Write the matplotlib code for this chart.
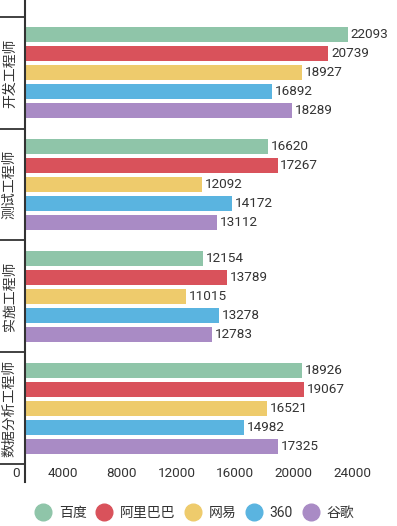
import numpy as np
import matplotlib
matplotlib.use('Agg')
from matplotlib import pyplot as plt
from matplotlib.lines import Line2D
from matplotlib.transforms import ScaledTranslation

plt.rcParams['font.family'] = ['Roboto', 'Noto Sans CJK SC', 'DejaVu Sans']

# job categories (top to bottom) and companies
jobs = ['开发工程师', '测试工程师', '实施工程师', '数据分析工程师']
companies = ['百度', '阿里巴巴', '网易', '360', '谷歌']
colors = ['#8fc5a9', '#d9525b', '#eecb6c', '#5ab4e0', '#a98bc5']

baidu = [22093, 16620, 12154, 18926]
alibaba = [20739, 17267, 13789, 19067]
netease = [18927, 12092, 11015, 16521]
q360 = [16892, 14172, 13278, 14982]
google = [18289, 13112, 12783, 17325]
series = [baidu, alibaba, netease, q360, google]

xticks = [0, 4000, 8000, 12000, 16000, 20000, 24000]

fig = plt.figure(figsize=(3.97, 5.26), dpi=100)
ax = fig.add_axes([25/397, 44/526, 351/397, 482/526])

y = np.arange(len(jobs))
step = 0.17
for i, vals in enumerate(series):
    bars = ax.barh(y + (i - 2) * step, vals, height=0.135, color=colors[i])
    ax.bar_label(bars, padding=2, fontsize=9.7, color='#333333')

ax.set_xlim(0, 24000)
ax.set_ylim(3.661, -0.652)

ax.set_xticks(xticks)
ax.set_xticklabels([str(t) for t in xticks])
ax.tick_params(axis='x', length=0, pad=-11, labelsize=9.7, labelcolor='#333333')
for lab in ax.get_xticklabels():
    lab.set_ha('right')
    lab.set_transform(lab.get_transform() + ScaledTranslation(-5/100, 0, fig.dpi_scale_trans))

ax.set_yticks(y)
ax.set_yticklabels(jobs, rotation=90, va='center', fontsize=10, color='#333333')
ax.set_yticks(np.arange(-0.5, len(jobs)), minor=True)
ax.tick_params(axis='y', which='major', length=0, pad=6)
ax.tick_params(axis='y', which='minor', length=18, width=1.3, color='#333333')

for s in ['top', 'right', 'bottom']:
    ax.spines[s].set_visible(False)
ax.spines['left'].set_color('#333333')
ax.spines['left'].set_linewidth(1.5)

handles = [Line2D([], [], marker='o', linestyle='', markersize=12, color=c) for c in colors]
fig.legend(handles, companies, loc='center', bbox_to_anchor=(0.49, 13/526), ncol=5,
           frameon=False, fontsize=10, handlelength=1.2, handletextpad=0.5,
           columnspacing=0.7, labelcolor='#333333')

plt.savefig('out.png', dpi=100)
